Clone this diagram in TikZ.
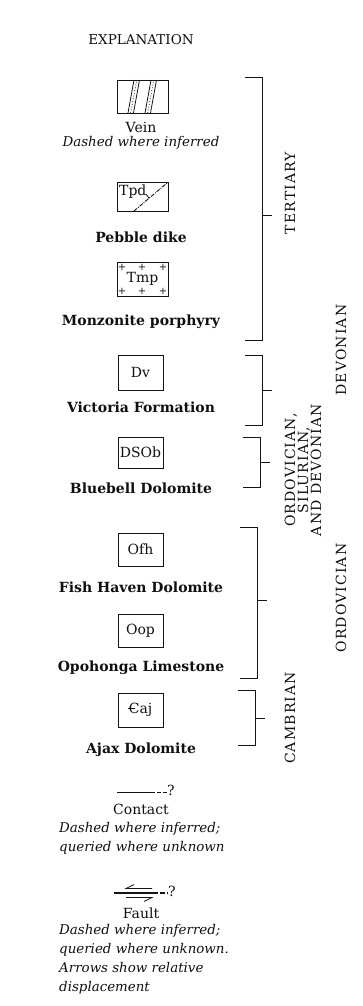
\documentclass[tikz,border=0pt]{standalone}
\usepackage{fontspec}
\setmainfont{DejaVu Serif}
\newfontfamily\agefont[LetterSpace=8]{DejaVu Serif}
\usetikzlibrary{arrows.meta}
\definecolor{inkline}{HTML}{141414}
\definecolor{inktext}{HTML}{101010}
\newcommand{\cmbC}{\makebox[0pt][l]{\kern-0.06em\rule[0.33em]{0.5em}{0.07em}}C}
\tikzset{
  hdr/.style     = {font=\fontsize{13.5}{15}\selectfont, inner sep=0pt},
  symbox/.style  = {rectangle, draw=inkline, line width=0.9pt, minimum width=51pt,
                    inner sep=0pt, font=\fontsize{14}{15}\selectfont},
  unitbox/.style = {symbox, minimum width=45pt, minimum height=33pt},
  unitname/.style= {font=\fontsize{14}{15}\selectfont\bfseries, inner sep=0pt},
  symname/.style = {font=\fontsize{14}{15}\selectfont, inner sep=0pt},
  note/.style    = {font=\fontsize{13.4}{19.2}\selectfont\itshape, inner sep=0pt, align=left},
  agelbl/.style  = {rotate=90, font=\agefont\fontsize{14}{13}\selectfont, inner sep=0pt, align=center},
  plus/.style    = {font=\fontsize{10}{10}\selectfont, inner sep=0pt},
  brk/.style     = {line width=0.9pt, draw=inkline},
  veinline/.style= {line width=0.8pt, draw=inkline},
  dikeline/.style= {line width=0.9pt, draw=inkline, dash pattern=on 4pt off 1.2pt on 1pt off 1.2pt},
}

\begin{document}
\begin{tikzpicture}[x=1pt, y=-1pt, every node/.style={text=inktext}]
\useasboundingbox (0,0) rectangle (362,1006);

\node[hdr] (title) at (141,40) {EXPLANATION};

% Tertiary symbols
\node[symbox, minimum height=33pt] (vein) at (142.5,96.5) {};
\draw[veinline] (128,113) -- (134,80);
\draw[veinline] (133.5,113) -- (139.5,80);
\draw[veinline, dotted] (130.75,113) -- (136.75,80);
\draw[veinline] (145,113) -- (151,80);
\draw[veinline] (150.5,113) -- (156.5,80);
\draw[veinline, dotted] (147.75,113) -- (153.75,80);
\node[symname] (veinname) at (141,127) {Vein};
\node[note] (veinnote) at (141,143) {Dashed where inferred};

\node[symbox, minimum height=29pt] (tpd) at (142.5,196.5) {};
\node[symname, anchor=north west] (tpdcode) at (119,184.5) {Tpd};
\draw[dikeline] (134,211) -- (167,183);
\draw[veinline] (146,194) -- (149,198.3);
\node[unitname] (tpdname) at (141,237) {Pebble dike};

\node[symbox, minimum height=34pt] (tmp) at (142.5,279) {Tmp};
\foreach \px in {122,142,163}
  \foreach \py in {267,291}
    \node[plus] (pl\px\py) at (\px,\py) {+};
\node[unitname] (tmpname) at (141,322) {Monzonite porphyry};

% older units
\node[unitbox, minimum height=35pt] (dv) at (140.5,372.5) {Dv};
\node[unitname] (dvname) at (141,407) {Victoria Formation};

\node[unitbox, minimum height=31pt] (dsob) at (140.5,452.5) {DSOb};
\node[unitname] (dsobname) at (141,488) {Bluebell Dolomite};

\node[unitbox] (ofh) at (140.5,549.5) {Ofh};
\node[unitname] (ofhname) at (141,587) {Fish Haven Dolomite};

\node[unitbox] (oop) at (140.5,630.5) {Oop};
\node[unitname] (oopname) at (141,668) {Opohonga Limestone};

\node[unitbox, minimum height=34pt] (caj) at (140.5,710) {\cmbC aj};
\node[unitname] (cajname) at (141,750) {Ajax Dolomite};

% age brackets
\draw[brk] (245,77) -- (262,77) -- (262,340) -- (245,340);
\draw[brk] (262,215) -- (272,215);
\draw[brk] (245,355) -- (262,355) -- (262,425) -- (245,425);
\draw[brk] (262,390) -- (272,390);
\draw[brk] (243,437) -- (260,437) -- (260,487) -- (243,487);
\draw[brk] (260,462) -- (270,462);
\draw[brk] (240,527) -- (257,527) -- (257,678) -- (240,678);
\draw[brk] (257,600) -- (267,600);
\draw[brk] (238,690) -- (255,690) -- (255,745) -- (238,745);
\draw[brk] (255,718) -- (265,718);

\node[agelbl] (tert) at (290,193) {TERTIARY};
\node[agelbl] (devon) at (341,350) {DEVONIAN};
\node[agelbl] (osd) at (303,470) {ORDOVICIAN,\\SILURIAN,\\AND DEVONIAN};
\node[agelbl] (ordo) at (341,598) {ORDOVICIAN};
\node[agelbl] (camb) at (290,718) {CAMBRIAN};

% contact
\coordinate (ca) at (117,792);
\coordinate (cb) at (151,792);
\coordinate (cc) at (167,792);
\draw[line width=0.8pt, draw=inkline] (ca) -- (cb);
\draw[line width=0.8pt, draw=inkline, dash pattern=on 3.5pt off 2.5pt] (cb) -- (cc);
\node[symname, anchor=west] (cq) at (167,790) {?};
\node[symname] (contact) at (141,809) {Contact};
\node[note, anchor=north west] (contactnote) at (59,822) {Dashed where inferred;\\queried where unknown};

% fault
\coordinate (fa) at (114,893);
\coordinate (fb) at (153,893);
\coordinate (fc) at (168,893);
\draw[line width=2.2pt, draw=inkline] (fa) -- (fb);
\draw[line width=2.2pt, draw=inkline, dash pattern=on 4.5pt off 2.5pt] (fb) -- (fc);
\draw[veinline] (152,888.5) -- (126,888.5) -- (134,884.5);
\draw[veinline] (126,897.5) -- (152,897.5) -- (144,901.5);
\node[symname, anchor=west] (fq) at (168,891) {?};
\node[symname] (fault) at (141,913) {Fault};
\node[note, anchor=north west] (faultnote) at (59,924) {Dashed where inferred;\\queried where unknown.\\Arrows show relative\\displacement};
\end{tikzpicture}
\end{document}
